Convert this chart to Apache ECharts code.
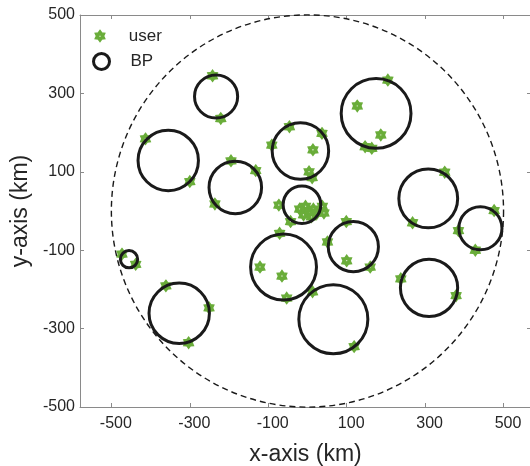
<!DOCTYPE html>
<html>
<head>
<meta charset="utf-8">
<script src="https://cdn.jsdelivr.net/npm/echarts@6/dist/echarts.min.js"></script>
<style>
html,body{margin:0;padding:0;background:#fff;}
#chart{width:530px;height:466px;}
</style>
</head>
<body>
<div id="chart"></div>
<script>
// ---- data (km) ----
const userX = [-242,-221,-413,-300,-195,-132,-236,-91,
  205,127,187,147,164,-46,37,14,4,12,350,268,476,385,428,
  -73,-43,-20,-5,5,15,-10,10,25,38,42,
  99,51,100,160,-71,-121,-65,-53,13,119,238,379,-473,-438,-361,-251,-303];
const userY = [345,236,184,75,128,103,18,168,
  334,268,194,164,160,215,198,156,100,85,99,-30,1,-50,-100,
  15,-27,5,12,-3,5,-10,-15,-5,12,-5,
  -27,-79,-127,-143,-57,-143,-166,-222,-206,-346,-173,-216,-110,-136,-191,-247,-336];
const bpX = [-233,-355,-184,175,-18,-14,308,441,117,-61,66,310,-455,-327];
const bpY = [292,129,60,249,153,16,32,-44,-91,-143,-276,-196,-123,-261];
const bpR = [55,77,67,89,72,48,75,55,64,84,88,73,22,77];
const areaR = 500;
const xTicks = [-500,-300,-100,100,300,500];
const yTicks = [-500,-300,-100,100,300,500];

const GREEN = '#6aad3a';
// fat six-pointed star with a small hexagonal hole (opposite winding)
const HEX = 'path://M0,-10L3.25,-5.629L8.66,-5L6.5,0L8.66,5L3.25,5.629L0,10L-3.25,5.629L-8.66,5L-6.5,0L-8.66,-5L-3.25,-5.629Z' +
            'M0,-2.8L-2.425,-1.4L-2.425,1.4L0,2.8L2.425,1.4L2.425,-1.4Z';
const FONT = "'Liberation Sans', Arial, Helvetica, sans-serif";
const AX = '#8a8a8a';

const users = userX.map((x,i)=>[x,userY[i]]);
const bps = bpX.map((x,i)=>[x,bpY[i],bpR[i]]);

function circleItem(style){
  return function(params, api){
    const c = api.coord([api.value(0), api.value(1)]);
    const s = api.size([api.value(2), api.value(2)]);
    return {type:'circle', shape:{cx:c[0], cy:c[1], r:s[0]}, style:style};
  };
}

const axisCommon = {
  type:'value',
  splitLine:{show:false},
  axisLine:{show:true, onZero:false, lineStyle:{color:AX, width:1}},
  axisTick:{show:true, inside:true, length:4, lineStyle:{color:AX}},
};

const chart = echarts.init(document.getElementById('chart'), null, {renderer:'canvas'});
chart.setOption({
  animation:false,
  backgroundColor:'#fff',
  grid:{left:80, top:15, width:451, height:392, containLabel:false, outerBoundsMode:'none'},
  xAxis:[
    Object.assign({}, axisCommon, {
      position:'bottom', min:-580, max:570,
      axisTick:Object.assign({}, axisCommon.axisTick, {customValues:xTicks}),
      axisLabel:{customValues:xTicks, color:'#262626', fontSize:16, fontFamily:FONT, margin:9, padding:[0,0,0,9]},
      name:'x-axis (km)', nameLocation:'middle', nameGap:36,
      nameTextStyle:{fontSize:23, color:'#262626', fontFamily:FONT}
    }),
    Object.assign({}, axisCommon, {
      position:'top', min:-580, max:570,
      axisTick:Object.assign({}, axisCommon.axisTick, {customValues:xTicks}),
      axisLabel:{show:false}
    })
  ],
  yAxis:[
    Object.assign({}, axisCommon, {
      position:'left', min:-500, max:500,
      axisTick:Object.assign({}, axisCommon.axisTick, {customValues:yTicks}),
      axisLabel:{customValues:yTicks, color:'#262626', fontSize:16, fontFamily:FONT, margin:5},
      name:'y-axis (km)', nameLocation:'middle', nameGap:42, nameRotate:90,
      nameTextStyle:{fontSize:23, color:'#262626', fontFamily:FONT}
    }),
    Object.assign({}, axisCommon, {
      position:'right', min:-500, max:500,
      axisTick:Object.assign({}, axisCommon.axisTick, {customValues:yTicks}),
      axisLabel:{show:false}
    })
  ],
  legend:[
    {
      data:[{name:'user', icon:HEX, itemStyle:{color:GREEN, opacity:1, borderColor:GREEN, borderWidth:1.5}}],
      left:94.5, top:27.5, itemWidth:9.5, itemHeight:11, padding:0, selectedMode:false,
      textStyle:{fontSize:17, color:'#262626', fontFamily:FONT, padding:[0,0,0,19]}
    },
    {
      data:[{name:'BP', icon:'circle', itemStyle:{color:'transparent', borderColor:'#1a1a1a', borderWidth:3}}],
      left:92, top:52, itemWidth:16, itemHeight:16, padding:0, selectedMode:false,
      textStyle:{fontSize:17, color:'#262626', fontFamily:FONT, padding:[0,0,0,16]}
    }
  ],
  series:[
    {
      name:'area', type:'custom', silent:true, clip:false, z:1,
      data:[[0,0,areaR]],
      encode:{x:0, y:1},
      renderItem:circleItem({fill:'none', stroke:'#1a1a1a', lineWidth:1.4, lineDash:[6,4]})
    },
    {
      name:'user', type:'scatter', z:2,
      data:users, symbol:HEX, symbolSize:[9.5,11],
      itemStyle:{color:GREEN, opacity:1, borderColor:GREEN, borderWidth:1.5}
    },
    {
      name:'BP', type:'custom', z:3, clip:false,
      data:bps, encode:{x:0, y:1},
      itemStyle:{color:'transparent', borderColor:'#1a1a1a'},
      renderItem:circleItem({fill:'none', stroke:'#1a1a1a', lineWidth:3})
    }
  ]
});
</script>
</body>
</html>
